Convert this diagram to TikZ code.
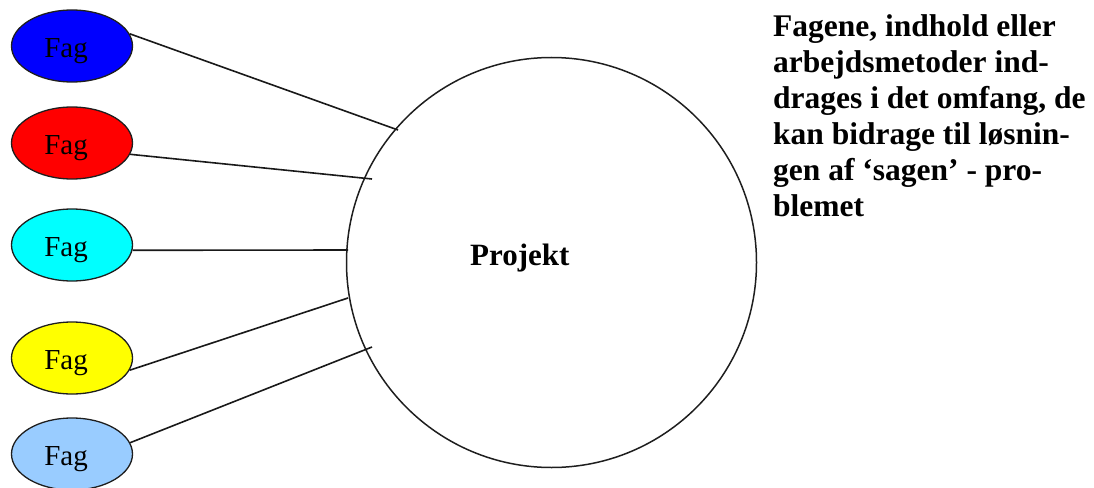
\documentclass[tikz,border=0pt]{standalone}
\usepackage{fontspec}
\setmainfont{Liberation Serif}
\usetikzlibrary{shapes.geometric}
\definecolor{fblue}{RGB}{0,0,255}
\definecolor{fred}{RGB}{255,0,0}
\definecolor{fcyan}{RGB}{0,255,255}
\definecolor{fyellow}{RGB}{255,255,0}
\definecolor{flight}{RGB}{153,204,255}
\definecolor{edge}{RGB}{30,30,30}
\begin{document}
\begin{tikzpicture}[x=1pt,y=-1pt,
  fagbox/.style={ellipse, draw=edge, line width=1.3pt, minimum width=121pt, minimum height=72pt,
    inner sep=0pt, text height=26pt, text depth=4pt,
    font=\fontsize{29}{32}\selectfont, execute at begin node=\hspace*{-12pt}},
  link/.style={draw=black!90, line width=1.6pt},
  projbox/.style={circle, draw=edge, line width=1.5pt, minimum size=410pt, inner sep=0pt},
  bigtext/.style={font=\fontsize{31.5}{36}\selectfont\bfseries, align=left, inner sep=0pt}]
\useasboundingbox (0,0) rectangle (1094,487);
\node[projbox] (proj) at (551.5,262.5) {};
\node[font=\fontsize{31}{34}\selectfont\bfseries, inner sep=0pt, anchor=base west] (projtxt) at (470,265) {Projekt};
\node[fagbox, fill=fblue] (f1) at (72,46) {Fag};
\node[fagbox, fill=fred] (f2) at (72,143) {Fag};
\node[fagbox, fill=fcyan] (f3) at (72,245) {Fag};
\node[fagbox, fill=fyellow] (f4) at (72,358) {Fag};
\node[fagbox, fill=flight] (f5) at (72,454) {Fag};
\coordinate (e1) at (398,130);
\coordinate (e2) at (372,179);
\coordinate (e3) at (348,250);
\coordinate (e4) at (348,298);
\coordinate (e5) at (372,347);
\draw[link] (f1.12) -- (e1);
\draw[link] (f2.-11) -- (e2);
\draw[link] (f3.-5) -- (e3);
\draw[link] (f4.-12) -- (e4);
\draw[link] (f5.11) -- (e5);
\node[bigtext, anchor=base west] (desc) at (773,216) {Fagene, indhold eller\\arbejdsmetoder ind-\\drages i det omfang, de\\kan bidrage til løsnin-\\gen af ‘sagen’ - pro-\\blemet};
\end{tikzpicture}
\end{document}
